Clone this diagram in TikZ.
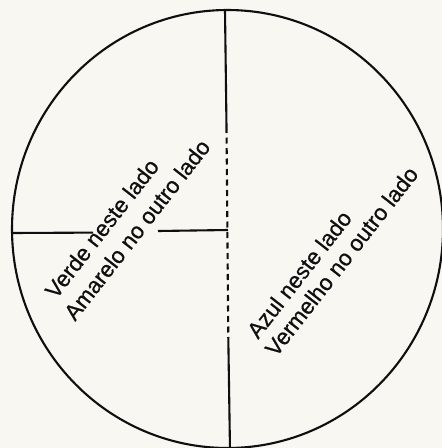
\documentclass[tikz,border=0pt]{standalone}
\usepackage{fontspec}
\setmainfont{Liberation Sans}[FakeBold=0.6]
\definecolor{paper}{RGB}{248,247,242}
\definecolor{ink}{RGB}{15,15,15}
\begin{document}
\begin{tikzpicture}[x=1pt,y=-1pt,
  outline/.style={draw=ink,line width=2.1pt},
  dashline/.style={draw=ink,line width=2.1pt,dash pattern=on 6pt off 4.5pt},
  lbl/.style={anchor=base west,inner sep=0pt,font=\fontsize{22.5}{25}\selectfont,text=ink,rotate=52}]
\fill[paper] (0,0) rectangle (442,448);
\useasboundingbox (0,0) rectangle (442,448);
\clip (0,0) rectangle (442,448);
% circle
\draw[outline] (227.5,229) ellipse [x radius=215.5, y radius=219];
% vertical divider
\coordinate (vtop) at (225,10);
\coordinate (vd1) at (226.5,127);
\coordinate (vd2) at (228.3,338);
\coordinate (vbot) at (230,450);
\draw[outline] (vtop) -- (vd1);
\draw[dashline] (vd1) -- (vd2);
\draw[outline] (vd2) -- (vbot);
% horizontal divider
\coordinate (hl) at (12,233);
\coordinate (hg1) at (93,232.6);
\coordinate (hg2) at (158,231);
\coordinate (hc) at (228,230);
\draw[outline] (hl) -- (hg1);
\draw[outline] (hg2) -- (hc);
% labels
\node[lbl] (verde) at (56,300) {Verde neste lado};
\node[lbl] (amarelo) at (75,322) {Amarelo no outro lado};
\node[lbl] (azul) at (258,340) {Azul neste lado};
\node[lbl] (vermelho) at (276,358) {Vermelho no outro lado};
\end{tikzpicture}
\end{document}
